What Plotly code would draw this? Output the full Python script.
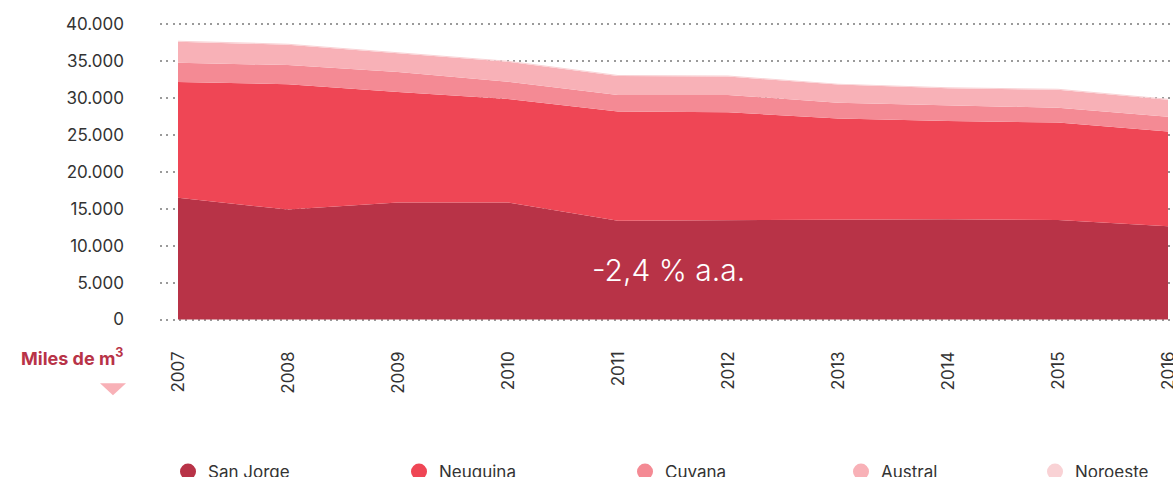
import plotly.graph_objects as go

# ---- data (miles de m3) ----
years = [2007, 2008, 2009, 2010, 2011, 2012, 2013, 2014, 2015, 2016]
series_names = ["San Jorge", "Neuquina", "Cuyana", "Austral", "Noroeste"]
san_jorge = [16500, 14900, 15850, 15850, 13400, 13500, 13500, 13600, 13500, 12650]
neuquina = [15700, 17000, 15000, 14050, 14800, 14600, 13750, 13300, 13200, 12850]
cuyana = [2600, 2600, 2700, 2350, 2250, 2350, 2150, 2150, 2000, 2000]
austral = [2850, 2750, 2550, 2700, 2550, 2500, 2450, 2300, 2450, 2300]
noroeste = [160, 150, 150, 140, 140, 140, 130, 130, 130, 120]
y_tickvals = [0, 5000, 10000, 15000, 20000, 25000, 30000, 35000, 40000]
y_ticktext = ["0", "5.000", "10.000", "15.000", "20.000", "25.000", "30.000", "35.000", "40.000"]
colors = ["#b83347", "#ef4655", "#f48a94", "#f8b1b7", "#f9d2d5"]
values = [san_jorge, neuquina, cuyana, austral, noroeste]

FONT = "Inter"
W, H = 1173, 477
# y: 0 -> 320px, 40000 -> 24px ; pad the range a little so edge grid lines show
PX_PER_UNIT = (320 - 24) / 40000
PAD = 200
T = 24 - PAD * PX_PER_UNIT
Bpx = 320 + PAD * PX_PER_UNIT
L, R = 160, 0
PW, PH = W - L - R, Bpx - T


def px_x(px):
    return (px - L) / PW


def px_y(py):
    return (Bpx - py) / PH


fig = go.Figure()
for name, vals, col in zip(series_names, values, colors):
    fig.add_trace(go.Scatter(
        x=years, y=vals, name=name, stackgroup="one", mode="lines",
        line=dict(width=0, color=col), fillcolor=col, showlegend=False,
    ))

legend_centers = [188, 419, 645, 861, 1055]
layout_legends = {}
for i, (name, col) in enumerate(zip(series_names, colors)):
    lid = "legend" if i == 0 else f"legend{i + 1}"
    fig.add_trace(go.Scatter(
        x=[None], y=[None], mode="markers", name=name,
        marker=dict(color=col, size=16, symbol="circle"), legend=lid,
    ))
    layout_legends[lid] = dict(
        x=px_x(legend_centers[i] - 20), xanchor="left",
        y=px_y(473), yanchor="middle", orientation="h",
        font=dict(family=FONT, size=17, color="#333333"),
        bgcolor="rgba(0,0,0,0)", borderwidth=0,
    )

fig.update_layout(
    width=W, height=H,
    margin=dict(l=L, r=R, t=T, b=H - Bpx, autoexpand=False),
    paper_bgcolor="white", plot_bgcolor="white",
    font=dict(family=FONT, size=17, color="#333333"),
    showlegend=True,
    xaxis=dict(
        range=[2007 - 18 / 110, 2007 - 18 / 110 + PW / 110],
        tickvals=years, ticktext=[str(y) for y in years],
        tickangle=-90, showgrid=False, zeroline=False, showline=False,
        ticks="", ticklabelstandoff=26, ticklabeloverflow="allow",
        tickfont=dict(family=FONT, size=17, color="#333333"),
    ),
    yaxis=dict(
        range=[-PAD, 40000 + PAD], tickvals=y_tickvals, ticktext=y_ticktext,
        showgrid=True, gridcolor="#9a9a9a", gridwidth=1.6, griddash="2px,4.3px",
        zeroline=False, showline=False, ticks="", ticklabelstandoff=35,
        tickfont=dict(family=FONT, size=17, color="#333333"),
        layer="below traces",
    ),
    **layout_legends,
)

fig.add_annotation(
    x=2011.46, y=6750, xref="x", yref="y", text="-2,4 % a.a.",
    showarrow=False, font=dict(family=FONT, size=30, color="white", weight=300),
)
fig.add_annotation(
    x=px_x(126), y=px_y(358), xref="paper", yref="paper",
    text="<b>Miles de m<sup>3</sup></b>",
    showarrow=False, xanchor="right", yanchor="middle",
    font=dict(family=FONT, size=18, color="#b83347"),
)
tri = [(100, 384), (126, 384), (113, 396)]
path = "M " + " L ".join(f"{px_x(a):.5f},{px_y(b):.5f}" for a, b in tri) + " Z"
fig.add_shape(type="path", path=path, xref="paper", yref="paper",
              fillcolor="#f8b1b7", line=dict(width=0))

fig.write_html("out.html", config={"displayModeBar": False},
               post_script="document.body.style.margin='0';")
